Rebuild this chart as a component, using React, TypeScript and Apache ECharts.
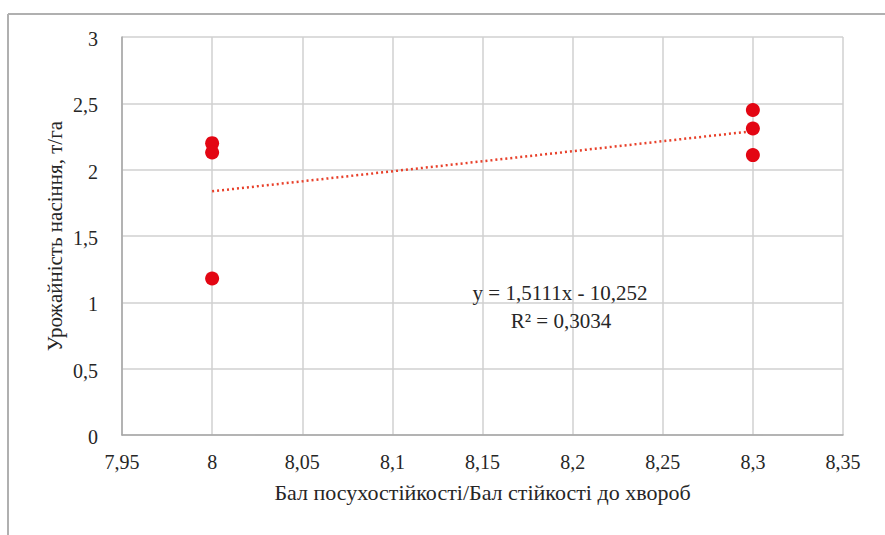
import React, { useEffect, useRef } from "react";
import * as echarts from "echarts";

const xValues = [8, 8, 8, 8.3, 8.3, 8.3];
const yValues = [2.2, 2.13, 1.18, 2.45, 2.31, 2.11];
const trendSlope = 1.5111;
const trendIntercept = -10.252;
const trendRange = [8, 8.3];
const xTicks = [7.95, 8, 8.05, 8.1, 8.15, 8.2, 8.25, 8.3, 8.35];
const yTicks = [0, 0.5, 1, 1.5, 2, 2.5, 3];
const equationText = "y = 1,5111x - 10,252";
const r2Text = "R² = 0,3034";
const xAxisTitle = "Бал посухостійкості/Бал стійкості до хвороб";
const yAxisTitle = "Урожайність насіння, т/га";

const fmt = (v: number) => String(Math.round(v * 100) / 100).replace(".", ",");

export default function App() {
  const ref = useRef<HTMLDivElement>(null);
  useEffect(() => {
    const chart = echarts.init(ref.current!, undefined, { renderer: "svg" });
    const points = xValues.map((x, i) => [x, yValues[i]]);
    const trend = trendRange.map((x) => [x, trendSlope * x + trendIntercept]);
    const font = "Liberation Serif";
    const ink = "#262626";
    chart.setOption({
      animation: false,
      backgroundColor: "#ffffff",
      textStyle: { fontFamily: font },
      grid: { left: 122, right: 42, top: 37, bottom: 100, containLabel: false },
      xAxis: {
        type: "value",
        min: 7.95,
        max: 8.35,
        interval: 0.05,
        name: xAxisTitle,
        nameLocation: "middle",
        nameGap: 46,
        nameTextStyle: { fontSize: 22, color: ink, fontFamily: font },
        axisLine: { show: true, lineStyle: { color: "#a6a6a6", width: 1.5 } },
        axisTick: { show: false },
        axisLabel: { show: false },
        splitLine: { show: true, lineStyle: { color: "#d0d0d0", width: 1.5 } },
      },
      yAxis: {
        type: "value",
        min: 0,
        max: 3,
        interval: 0.5,
        name: yAxisTitle,
        nameLocation: "middle",
        nameGap: 57,
        nameTextStyle: { fontSize: 21, color: ink, fontFamily: font },
        axisLine: { show: true, lineStyle: { color: "#a6a6a6", width: 1.5 } },
        axisTick: { show: false },
        axisLabel: { show: false },
        splitLine: { show: true, lineStyle: { color: "#d0d0d0", width: 1.5 } },
      },
      series: [
        {
          type: "line",
          data: trend,
          symbol: "none",
          lineStyle: { color: "#e8402a", width: 2.5, type: [2, 3] },
          z: 2,
        },
        {
          type: "scatter",
          data: points,
          symbolSize: 14,
          itemStyle: { color: "#e30613", opacity: 1 },
          z: 3,
        },
      ],
    });
    const labelEls: any[] = [];
    xTicks.forEach((v) => {
      const p = chart.convertToPixel({ gridIndex: 0 }, [v, 0]) as number[];
      labelEls.push({
        type: "text",
        x: p[0],
        y: p[1] + 27,
        style: { text: fmt(v), fontSize: 20, fontFamily: font, fill: ink, align: "center", verticalAlign: "middle" },
      });
    });
    yTicks.forEach((v) => {
      const p = chart.convertToPixel({ gridIndex: 0 }, [7.95, v]) as number[];
      labelEls.push({
        type: "text",
        x: p[0] - 24,
        y: p[1] + 2,
        style: { text: fmt(v), fontSize: 20, fontFamily: font, fill: ink, align: "right", verticalAlign: "middle" },
      });
    });
    chart.setOption({
      graphic: [
        { type: "line", shape: { x1: 8, y1: 14, x2: 885, y2: 14 }, style: { stroke: "#b0b0b0", lineWidth: 2 } },
        { type: "line", shape: { x1: 8, y1: 14, x2: 8, y2: 535 }, style: { stroke: "#b0b0b0", lineWidth: 2 } },
        {
          type: "text",
          x: 560,
          y: 293,
          style: { text: equationText, fontSize: 21, fontFamily: font, fill: ink, align: "center", verticalAlign: "middle" },
        },
        {
          type: "text",
          x: 561,
          y: 321,
          style: { text: r2Text, fontSize: 21, fontFamily: font, fill: ink, align: "center", verticalAlign: "middle" },
        },
        ...labelEls,
      ],
    });
    return () => chart.dispose();
  }, []);
  return (
    <div
      ref={ref}
      style={{ position: "fixed", left: 0, top: 0, width: 885, height: 535, background: "#fff" }}
    />
  );
}
